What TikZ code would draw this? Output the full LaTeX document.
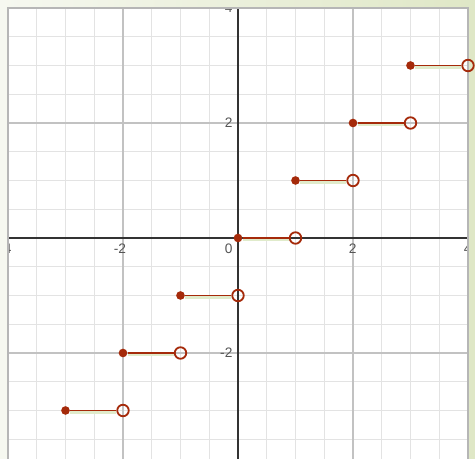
\documentclass[tikz,border=0pt]{standalone}
\usepackage{fontspec}
\setmainfont{Liberation Sans}
\definecolor{bgl}{HTML}{F6F8F0}
\definecolor{bgr}{HTML}{DFE7C6}
\definecolor{minorc}{HTML}{E3E3E3}
\definecolor{majorc}{HTML}{C2C2C2}
\definecolor{axisc}{HTML}{333333}
\definecolor{labc}{HTML}{555555}
\definecolor{segc}{HTML}{A52A0A}
\definecolor{hilc}{HTML}{E0EBCB}
\tikzset{
  minorgrid/.style={draw=minorc, line width=0.5pt},
  majorgrid/.style={draw=majorc, line width=0.7pt},
  axisline/.style={draw=axisc, line width=0.6pt},
  border/.style={draw=majorc!120, line width=0.6pt},
  ticklab/.style={text=labc, font=\fontsize{6.8}{8}\selectfont, inner sep=0pt},
  soliddot/.style={circle, fill=segc, draw=none, minimum size=0.15cm, inner sep=0pt},
  opendot/.style={circle, draw=segc, line width=0.9pt, fill=none, minimum size=0.2cm, inner sep=0pt},
  segline/.style={draw=segc, line width=0.8pt},
  hiline/.style={draw=hilc, line width=1.6pt}
}
\begin{document}
\begin{tikzpicture}[x=1cm,y=1cm]
\useasboundingbox (-4.139,-3.843) rectangle (4.122,4.139);
\shade[left color=bgl, right color=bgr] (-4.139,-3.843) rectangle (4.122,4.139);
\fill[white] (-4,-3.9) rectangle (4,4);
\begin{scope}
  \clip (-4,-3.9) rectangle (4,4);
  \draw[minorgrid] (-4,-4) grid[step=0.5] (4,4);
  \draw[majorgrid] (-4,-4) grid[step=2] (4,4);
  \draw[axisline] (-4,0) -- (4,0);
  \draw[axisline] (0,-4) -- (0,4);
  \node[ticklab, anchor=north east] (xm4) at (-3.93,-0.09) {-4};
  \node[ticklab, anchor=north east] (xm2) at (-1.94,-0.09) {-2};
  \node[ticklab, anchor=north east] (x0) at (-0.09,-0.09) {0};
  \node[ticklab, anchor=north east] (x2) at (2.07,-0.09) {2};
  \node[ticklab, anchor=north east] (x4) at (4.07,-0.09) {4};
  \node[ticklab, anchor=east] (ym2) at (-0.09,-2) {-2};
  \node[ticklab, anchor=east] (y2) at (-0.09,2) {2};
  \node[ticklab, anchor=east] (y4) at (-0.09,4) {4};
\end{scope}
\draw[border] (-4,-3.9) -- (-4,4) -- (4,4) -- (4,-3.9);
\foreach \k in {-3,...,3} {
  \node[soliddot] (s\k) at (\k,\k) {};
  \node[opendot] (o\k) at (\k+1,\k) {};
  \draw[hiline] ([yshift=-0.7pt]s\k.east) -- ([yshift=-0.7pt]o\k.west);
  \draw[segline] (s\k) -- (o\k);
}
\end{tikzpicture}
\end{document}
